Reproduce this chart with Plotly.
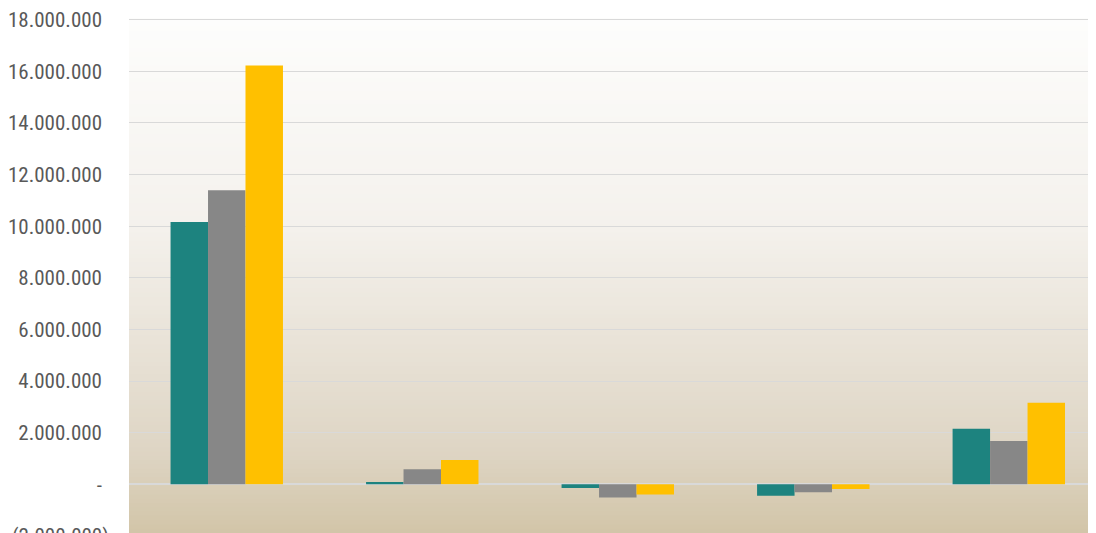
import plotly.graph_objects as go

# ---- data ----
categories = ["Cat 1", "Cat 2", "Cat 3", "Cat 4", "Cat 5"]
series_names = ["Serie 1", "Serie 2", "Serie 3"]
serie_1 = [10160000, 90000, -140000, -440000, 2150000]
serie_2 = [11390000, 580000, -510000, -310000, 1680000]
serie_3 = [16230000, 940000, -400000, -180000, 3160000]
series_colors = ["#1d837f", "#878787", "#ffc000"]

tick_vals = [0, 2000000, 4000000, 6000000, 8000000, 10000000, 12000000, 14000000, 16000000, 18000000]
tick_text = ["-", "2.000.000", "4.000.000", "6.000.000", "8.000.000", "10.000.000",
             "12.000.000", "14.000.000", "16.000.000", "18.000.000"]
neg_tick_val = -2000000
neg_tick_text = "(2.000.000)"

# ---- layout parameters (page body has an 8px margin) ----
W, H = 1088, 525
M_L, M_R, M_T, M_B = 120, 0, 8, 0
Y_MIN, Y_MAX = -1888000, 18066000
X_RANGE = [-0.5, 4.446]

# background gradient stops (paper fraction from bottom, rgb)
grad_stops = [
    (0.00, (210, 197, 168)),
    (0.16, (222, 213, 196)),
    (0.59, (244, 241, 236)),
    (0.995, (253, 253, 252)),
    (1.00, (255, 255, 255)),
]


def grad_color(f):
    for (f0, c0), (f1, c1) in zip(grad_stops[:-1], grad_stops[1:]):
        if f0 <= f <= f1:
            t = (f - f0) / (f1 - f0) if f1 > f0 else 0
            return "rgb(%d,%d,%d)" % tuple(round(a + (b - a) * t) for a, b in zip(c0, c1))
    return "rgb(%d,%d,%d)" % grad_stops[-1][1]


n_strips = 120
shapes = []
for i in range(n_strips):
    y0 = i / n_strips
    y1 = (i + 1) / n_strips
    shapes.append(dict(type="rect", xref="paper", yref="paper", x0=0, x1=1,
                       y0=y0, y1=min(1, y1 + 0.003), fillcolor=grad_color((y0 + y1) / 2),
                       line=dict(width=0), layer="below"))

fig = go.Figure()
for name, vals, col in zip(series_names, [serie_1, serie_2, serie_3], series_colors):
    fig.add_trace(go.Bar(x=categories, y=vals, name=name, marker=dict(color=col, line=dict(width=0))))

tick_font = dict(family="Liberation Sans Narrow, Arial Narrow, Roboto Condensed, sans-serif",
                 size=21, color="#595959")

neg_paper_y = (neg_tick_val - Y_MIN) / (Y_MAX - Y_MIN)
fig.add_annotation(text=neg_tick_text, xref="paper", yref="paper", x=-18 / (W - M_L - M_R),
                   y=neg_paper_y, xanchor="right", yanchor="middle", showarrow=False,
                   font=tick_font)

fig.update_layout(
    width=W, height=H,
    margin=dict(l=M_L, r=M_R, t=M_T, b=M_B, pad=0),
    paper_bgcolor="white",
    plot_bgcolor="rgba(0,0,0,0)",
    barmode="group", bargap=0.425, bargroupgap=0,
    showlegend=False,
    shapes=shapes,
    xaxis=dict(range=X_RANGE, showticklabels=False, showgrid=False, zeroline=False,
               showline=False, ticks=""),
    yaxis=dict(range=[Y_MIN, Y_MAX], tickvals=tick_vals, ticktext=tick_text,
               showgrid=True, gridcolor="#d9d9d9", gridwidth=1.3,
               zeroline=True, zerolinecolor="#d9d9d9", zerolinewidth=1.5,
               showline=False, ticks="", ticklabelstandoff=26,
               ticklabeloverflow="allow",
               tickfont=tick_font),
)

fig.write_html("out.html")
